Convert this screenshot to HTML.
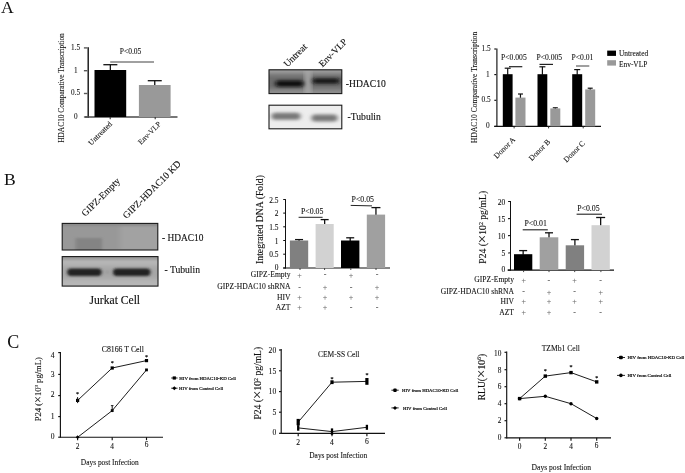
<!DOCTYPE html>
<html><head><meta charset="utf-8"><title>Figure</title>
<style>
html,body{margin:0;padding:0;background:#fff;}
svg{display:block;font-family:'Liberation Serif', serif;}
</style></head>
<body>
<svg width="685" height="473" viewBox="0 0 685 473">
<rect width="685" height="473" fill="#fff"/>
<text transform="translate(1.1 13) scale(1.0 1)" font-size="17.6" text-anchor="start" fill="#111" stroke="#111" stroke-width="0">A</text>
<text transform="translate(4.1 184.7) scale(1.0 1)" font-size="17.6" text-anchor="start" fill="#111" stroke="#111" stroke-width="0">B</text>
<text transform="translate(7.2 347.5) scale(1.0 1)" font-size="18.0" text-anchor="start" fill="#111" stroke="#111" stroke-width="0">C</text>
<line x1="88.2" y1="47.199999999999996" x2="88.2" y2="117.7" stroke="#111" stroke-width="1.4"/>
<line x1="83.9" y1="47.9" x2="87.5" y2="47.9" stroke="#5a5a5a" stroke-width="1.4"/>
<text transform="translate(80 49.844) scale(1.0 1)" font-size="7.2" text-anchor="end" fill="#111" stroke="#111" stroke-width="0.086">1.5</text>
<line x1="83.9" y1="70.7" x2="87.5" y2="70.7" stroke="#5a5a5a" stroke-width="1.4"/>
<text transform="translate(77.6 72.644) scale(1.0 1)" font-size="7.2" text-anchor="end" fill="#111" stroke="#111" stroke-width="0.086">1</text>
<line x1="83.9" y1="93.5" x2="87.5" y2="93.5" stroke="#5a5a5a" stroke-width="1.4"/>
<text transform="translate(80 95.444) scale(1.0 1)" font-size="7.2" text-anchor="end" fill="#111" stroke="#111" stroke-width="0.086">0.5</text>
<line x1="83.9" y1="117" x2="87.5" y2="117" stroke="#5a5a5a" stroke-width="1.4"/>
<text transform="translate(77.6 118.944) scale(1.0 1)" font-size="7.2" text-anchor="end" fill="#111" stroke="#111" stroke-width="0.086">0</text>
<line x1="85" y1="117" x2="177.5" y2="117" stroke="#4a4a4a" stroke-width="1.4"/>
<line x1="110.2" y1="117" x2="110.2" y2="119.2" stroke="#333" stroke-width="1.1"/>
<line x1="155.2" y1="117" x2="155.2" y2="119.2" stroke="#333" stroke-width="1.1"/>
<line x1="110.35" y1="64.7" x2="110.35" y2="70.5" stroke="#111" stroke-width="1.3"/>
<line x1="103.35" y1="64.7" x2="117.35" y2="64.7" stroke="#111" stroke-width="1.3"/>
<rect x="94.50" y="70.00" width="31.70" height="47.00" fill="#000"/>
<line x1="154.75" y1="80.7" x2="154.75" y2="85.5" stroke="#111" stroke-width="1.3"/>
<line x1="147.75" y1="80.7" x2="161.75" y2="80.7" stroke="#111" stroke-width="1.3"/>
<rect x="138.90" y="85.00" width="31.70" height="32.00" fill="#999"/>
<line x1="110.2" y1="62" x2="154" y2="62" stroke="#808080" stroke-width="1.4"/>
<text transform="translate(130.6 54.2) scale(1.0 1)" font-size="7.5" text-anchor="middle" fill="#111" stroke="#111" stroke-width="0.09">P&lt;0.05</text>
<text transform="translate(63.6 88) rotate(-90) scale(1.0 1)" font-size="7.4" text-anchor="middle" fill="#111" stroke="#111" stroke-width="0.089">HDAC10 Comparative Transcription</text>
<text transform="translate(112.5 124.5) rotate(-45) scale(1.0 1)" font-size="7.6" text-anchor="end" fill="#111" stroke="#111" stroke-width="0.091">Untreated</text>
<text transform="translate(161.5 124.5) rotate(-45) scale(1.0 1)" font-size="7.6" text-anchor="end" fill="#111" stroke="#111" stroke-width="0.091">Env-VLP</text>
<defs><filter id="b1" x="-20%" y="-50%" width="140%" height="200%"><feGaussianBlur stdDeviation="2.1 1.5"/></filter><filter id="b2" x="-20%" y="-50%" width="140%" height="200%"><feGaussianBlur stdDeviation="1.6 1.1"/></filter><filter id="b4" x="-20%" y="-50%" width="140%" height="200%"><feGaussianBlur stdDeviation="1.7 1.3"/></filter><filter id="b3" x="-20%" y="-50%" width="140%" height="200%"><feGaussianBlur stdDeviation="2.5 2"/></filter><clipPath id="cA1"><rect x="269" y="69.6" width="72.8" height="24"/></clipPath><clipPath id="cA2"><rect x="269" y="105.2" width="72.8" height="23.6"/></clipPath><clipPath id="cB1"><rect x="62.2" y="223.6" width="95.6" height="26.3"/></clipPath><clipPath id="cB2"><rect x="62.2" y="256.6" width="95.8" height="29.5"/></clipPath></defs>
<rect x="269.00" y="69.80" width="72.80" height="23.80" fill="#8e8e8e"/>
<g clip-path="url(#cA1)">
<rect x="262" y="75" width="90" height="14" fill="#6c6c6c" filter="url(#b3)"/>
<rect x="266" y="65" width="80" height="6" fill="#a8a8a8" filter="url(#b3)"/>
<rect x="304.5" y="66" width="7" height="30" fill="#a6a6a6" filter="url(#b3)"/>
<rect x="275.5" y="80.4" width="28" height="6.4" rx="3.2" fill="#0a0a0a" filter="url(#b1)"/>
<rect x="312.5" y="78.2" width="27" height="5.6" rx="2.8" fill="#161616" filter="url(#b1)"/>
</g>
<rect x="269.00" y="69.80" width="72.80" height="23.80" fill="none" stroke="#1a1a1a" stroke-width="1.1"/>
<rect x="269.00" y="105.20" width="72.80" height="23.60" fill="#ededed"/>
<g clip-path="url(#cA2)">
<rect x="271.5" y="112.8" width="29" height="7" rx="3.5" fill="#787878" filter="url(#b1)"/>
<rect x="311.5" y="114.4" width="26" height="7" rx="3.5" fill="#787878" filter="url(#b1)"/>
</g>
<rect x="269.00" y="105.20" width="72.80" height="23.60" fill="none" stroke="#1a1a1a" stroke-width="1.1"/>
<text transform="translate(345.8 86.5) scale(1.0 1)" font-size="9.6" text-anchor="start" fill="#111" stroke="#111" stroke-width="0.115">-HDAC10</text>
<text transform="translate(347.6 120.3) scale(1.0 1)" font-size="9.6" text-anchor="start" fill="#111" stroke="#111" stroke-width="0.115">-Tubulin</text>
<text transform="translate(287.5 67.5) rotate(-45) scale(1.0 1)" font-size="9.5" text-anchor="start" fill="#111" stroke="#111" stroke-width="0.114">Untreat</text>
<text transform="translate(322.5 67.5) rotate(-45) scale(1.0 1)" font-size="9.3" text-anchor="start" fill="#111" stroke="#111" stroke-width="0.112">Env-VLP</text>
<line x1="496.9" y1="48.425" x2="496.9" y2="126.97500000000001" stroke="#111" stroke-width="1.15"/>
<line x1="494.29999999999995" y1="49" x2="496.325" y2="49" stroke="#111" stroke-width="1.15"/>
<text transform="translate(490.7 50.971000000000004) scale(1.0 1)" font-size="7.3" text-anchor="end" fill="#111" stroke="#111" stroke-width="0.088">1.5</text>
<line x1="494.29999999999995" y1="74.6" x2="496.325" y2="74.6" stroke="#111" stroke-width="1.15"/>
<text transform="translate(489.6 76.571) scale(1.0 1)" font-size="7.3" text-anchor="end" fill="#111" stroke="#111" stroke-width="0.088">1</text>
<line x1="494.29999999999995" y1="100.3" x2="496.325" y2="100.3" stroke="#111" stroke-width="1.15"/>
<text transform="translate(490.7 102.271) scale(1.0 1)" font-size="7.3" text-anchor="end" fill="#111" stroke="#111" stroke-width="0.088">0.5</text>
<line x1="494.29999999999995" y1="126.4" x2="496.325" y2="126.4" stroke="#111" stroke-width="1.15"/>
<text transform="translate(489.6 128.371) scale(1.0 1)" font-size="7.3" text-anchor="end" fill="#111" stroke="#111" stroke-width="0.088">0</text>
<line x1="494.3" y1="126.4" x2="601" y2="126.4" stroke="#111" stroke-width="1.15"/>
<line x1="514.1" y1="126.4" x2="514.1" y2="128.4" stroke="#333" stroke-width="1"/>
<line x1="548.6" y1="126.4" x2="548.6" y2="128.4" stroke="#333" stroke-width="1"/>
<line x1="583.2" y1="126.4" x2="583.2" y2="128.4" stroke="#333" stroke-width="1"/>
<line x1="507.70000000000005" y1="68.2" x2="507.70000000000005" y2="74.7" stroke="#111" stroke-width="1.2"/>
<line x1="504.70000000000005" y1="68.2" x2="510.70000000000005" y2="68.2" stroke="#111" stroke-width="1.2"/>
<rect x="502.80" y="74.20" width="9.80" height="52.20" fill="#000"/>
<line x1="520.45" y1="94" x2="520.45" y2="98.1" stroke="#111" stroke-width="1.2"/>
<line x1="517.95" y1="94" x2="522.95" y2="94" stroke="#111" stroke-width="1.2"/>
<rect x="515.40" y="97.60" width="10.10" height="28.80" fill="#999"/>
<line x1="542.4" y1="66.8" x2="542.4" y2="74.7" stroke="#111" stroke-width="1.2"/>
<line x1="539.4" y1="66.8" x2="545.4" y2="66.8" stroke="#111" stroke-width="1.2"/>
<rect x="537.50" y="74.20" width="9.80" height="52.20" fill="#000"/>
<line x1="555.3" y1="107.8" x2="555.3" y2="108.9" stroke="#111" stroke-width="1.2"/>
<line x1="552.8" y1="107.8" x2="557.8" y2="107.8" stroke="#111" stroke-width="1.2"/>
<rect x="550.30" y="108.40" width="10.00" height="18.00" fill="#999"/>
<line x1="577.2" y1="69.6" x2="577.2" y2="74.7" stroke="#111" stroke-width="1.2"/>
<line x1="574.2" y1="69.6" x2="580.2" y2="69.6" stroke="#111" stroke-width="1.2"/>
<rect x="572.20" y="74.20" width="10.00" height="52.20" fill="#000"/>
<line x1="590.2" y1="88.2" x2="590.2" y2="89.9" stroke="#111" stroke-width="1.2"/>
<line x1="587.7" y1="88.2" x2="592.7" y2="88.2" stroke="#111" stroke-width="1.2"/>
<rect x="585.20" y="89.40" width="10.00" height="37.00" fill="#999"/>
<line x1="509" y1="66.7" x2="522.3" y2="66.7" stroke="#222" stroke-width="1.2"/>
<line x1="539.5" y1="64.4" x2="553" y2="64.4" stroke="#222" stroke-width="1.2"/>
<line x1="576" y1="66" x2="589.3" y2="66" stroke="#777" stroke-width="1.4"/>
<text transform="translate(513.9 59.8) scale(1.0 1)" font-size="7.6" text-anchor="middle" fill="#111" stroke="#111" stroke-width="0.091">P&lt;0.005</text>
<text transform="translate(549.3 59.8) scale(1.0 1)" font-size="7.6" text-anchor="middle" fill="#111" stroke="#111" stroke-width="0.091">P&lt;0.005</text>
<text transform="translate(582.5 60) scale(1.0 1)" font-size="7.6" text-anchor="middle" fill="#111" stroke="#111" stroke-width="0.091">P&lt;0.01</text>
<rect x="607.20" y="50.60" width="8.80" height="5.30" fill="#000"/>
<rect x="607.20" y="60.20" width="8.80" height="5.40" fill="#999"/>
<text transform="translate(619 55.6) scale(1.0 1)" font-size="7.4" text-anchor="start" fill="#111" stroke="#111" stroke-width="0.089">Untreated</text>
<text transform="translate(619 66.6) scale(1.0 1)" font-size="7.4" text-anchor="start" fill="#111" stroke="#111" stroke-width="0.089">Env-VLP</text>
<text transform="translate(476.8 87.3) rotate(-90) scale(1.0 1)" font-size="7.5" text-anchor="middle" fill="#111" stroke="#111" stroke-width="0.09">HDAC10 Comparative Transcription</text>
<text transform="translate(515.7 140) rotate(-45) scale(1.0 1)" font-size="7.7" text-anchor="end" fill="#111" stroke="#111" stroke-width="0.092">Donor A</text>
<text transform="translate(550.6 142.4) rotate(-45) scale(1.0 1)" font-size="7.7" text-anchor="end" fill="#111" stroke="#111" stroke-width="0.092">Donor B</text>
<text transform="translate(585.4 143.8) rotate(-45) scale(1.0 1)" font-size="7.7" text-anchor="end" fill="#111" stroke="#111" stroke-width="0.092">Donor C</text>
<rect x="62.20" y="223.60" width="95.60" height="26.30" fill="#989898"/>
<g clip-path="url(#cB1)">
<rect x="120" y="222" width="40" height="30" fill="#a2a2a2" filter="url(#b3)"/>
<rect x="60" y="221" width="100" height="5" fill="#8a8a8a" filter="url(#b2)"/>
<rect x="75.5" y="238" width="26.5" height="14" fill="#848484" filter="url(#b2)"/>
</g>
<rect x="62.20" y="223.40" width="95.60" height="26.60" fill="none" stroke="#1a1a1a" stroke-width="1.1"/>
<rect x="62.20" y="256.60" width="95.80" height="29.50" fill="#b6b6b6"/>
<g clip-path="url(#cB2)">
<rect x="58" y="254" width="104" height="6" fill="#9c9c9c" filter="url(#b2)"/>
<rect x="58" y="266" width="104" height="13" fill="#a6a6a6" filter="url(#b3)"/>
<rect x="67.2" y="268.6" width="34.5" height="7.4" rx="3.7" fill="#222" filter="url(#b4)"/>
<rect x="113" y="268.6" width="37.5" height="7.4" rx="3.7" fill="#222" filter="url(#b4)"/>
<ellipse cx="107.3" cy="272" rx="2" ry="1.6" fill="#9a9a9a" filter="url(#b2)"/>
</g>
<rect x="62.20" y="256.60" width="95.80" height="29.50" fill="none" stroke="#1a1a1a" stroke-width="1.1"/>
<text transform="translate(162 240.8) scale(1.0 1)" font-size="9.4" text-anchor="start" fill="#111" stroke="#111" stroke-width="0.113">- HDAC10</text>
<text transform="translate(164.5 272.8) scale(1.0 1)" font-size="9.6" text-anchor="start" fill="#111" stroke="#111" stroke-width="0.115">- Tubulin</text>
<text transform="translate(114.8 304.3) scale(1.0 1)" font-size="11.6" text-anchor="middle" fill="#111" stroke="#111" stroke-width="0.139">Jurkat Cell</text>
<text transform="translate(85.3 217) rotate(-45) scale(1.0 1)" font-size="9.6" text-anchor="start" fill="#111" stroke="#111" stroke-width="0.115">GIPZ-Empty</text>
<text transform="translate(126.6 219.2) rotate(-45) scale(1.0 1)" font-size="9.6" text-anchor="start" fill="#111" stroke="#111" stroke-width="0.115">GIPZ-HDAC10 KD</text>
<line x1="285.5" y1="199.17499999999998" x2="285.5" y2="268.525" stroke="#111" stroke-width="1.05"/>
<line x1="283.2" y1="199.5" x2="285.5" y2="199.5" stroke="#111" stroke-width="1.05"/>
<text transform="translate(278.5 202.8) scale(1.0 1)" font-size="7.4" text-anchor="end" fill="#111" stroke="#111" stroke-width="0.089">2.5</text>
<line x1="283.2" y1="213.1" x2="285.5" y2="213.1" stroke="#111" stroke-width="1.05"/>
<text transform="translate(278.5 216.29999999999998) scale(1.0 1)" font-size="7.4" text-anchor="end" fill="#111" stroke="#111" stroke-width="0.089">2</text>
<line x1="283.2" y1="226.8" x2="285.5" y2="226.8" stroke="#111" stroke-width="1.05"/>
<text transform="translate(278.5 229.9) scale(1.0 1)" font-size="7.4" text-anchor="end" fill="#111" stroke="#111" stroke-width="0.089">1.5</text>
<line x1="283.2" y1="240.5" x2="285.5" y2="240.5" stroke="#111" stroke-width="1.05"/>
<text transform="translate(278.5 243.6) scale(1.0 1)" font-size="7.4" text-anchor="end" fill="#111" stroke="#111" stroke-width="0.089">1</text>
<line x1="283.2" y1="254.2" x2="285.5" y2="254.2" stroke="#111" stroke-width="1.05"/>
<text transform="translate(278.5 257.2) scale(1.0 1)" font-size="7.4" text-anchor="end" fill="#111" stroke="#111" stroke-width="0.089">0.5</text>
<line x1="283.2" y1="268" x2="285.5" y2="268" stroke="#111" stroke-width="1.05"/>
<text transform="translate(278.5 270.2) scale(1.0 1)" font-size="7.4" text-anchor="end" fill="#111" stroke="#111" stroke-width="0.089">0</text>
<line x1="283.2" y1="268" x2="390" y2="268" stroke="#111" stroke-width="1.15"/>
<line x1="300" y1="268" x2="300" y2="270" stroke="#444" stroke-width="1"/>
<line x1="324.6" y1="268" x2="324.6" y2="270" stroke="#444" stroke-width="1"/>
<line x1="350.8" y1="268" x2="350.8" y2="270" stroke="#444" stroke-width="1"/>
<line x1="376" y1="268" x2="376" y2="270" stroke="#444" stroke-width="1"/>
<line x1="299.04999999999995" y1="239.6" x2="299.04999999999995" y2="241.0" stroke="#111" stroke-width="1.3"/>
<line x1="295.04999999999995" y1="239.6" x2="303.04999999999995" y2="239.6" stroke="#111" stroke-width="1.3"/>
<rect x="289.90" y="240.50" width="18.30" height="27.50" fill="#808080"/>
<line x1="324.65" y1="219.6" x2="324.65" y2="224.5" stroke="#111" stroke-width="1.3"/>
<line x1="320.65" y1="219.6" x2="328.65" y2="219.6" stroke="#111" stroke-width="1.3"/>
<rect x="315.60" y="224.00" width="18.10" height="44.00" fill="#d2d2d2"/>
<line x1="350.2" y1="237.8" x2="350.2" y2="241.0" stroke="#111" stroke-width="1.3"/>
<line x1="346.2" y1="237.8" x2="354.2" y2="237.8" stroke="#111" stroke-width="1.3"/>
<rect x="341.00" y="240.50" width="18.40" height="27.50" fill="#000"/>
<line x1="375.95000000000005" y1="207.6" x2="375.95000000000005" y2="215.1" stroke="#111" stroke-width="1.3"/>
<line x1="371.45000000000005" y1="207.6" x2="380.45000000000005" y2="207.6" stroke="#111" stroke-width="1.3"/>
<rect x="366.80" y="214.60" width="18.30" height="53.40" fill="#a0a0a0"/>
<line x1="298.6" y1="217.3" x2="322.6" y2="217.3" stroke="#222" stroke-width="1"/>
<line x1="350.7" y1="205.4" x2="372" y2="205.9" stroke="#222" stroke-width="1"/>
<text transform="translate(312.2 213.8) scale(1.0 1)" font-size="7.8" text-anchor="middle" fill="#111" stroke="#111" stroke-width="0.094">P&lt;0.05</text>
<text transform="translate(362.8 201.5) scale(1.0 1)" font-size="7.8" text-anchor="middle" fill="#111" stroke="#111" stroke-width="0.094">P&lt;0.05</text>
<text transform="translate(262.5 219.5) rotate(-90) scale(1.0 1)" font-size="9.7" text-anchor="middle" fill="#111" stroke="#111" stroke-width="0.116">Integrated DNA (Fold)</text>
<text transform="translate(290.5 276.7) scale(1.0 1)" font-size="7.6" text-anchor="end" fill="#111" stroke="#111" stroke-width="0.091">GIPZ-Empty</text>
<text transform="translate(290.5 288.9) scale(1.0 1)" font-size="7.6" text-anchor="end" fill="#111" stroke="#111" stroke-width="0.091">GIPZ-HDAC10 shRNA</text>
<text transform="translate(290.5 299.5) scale(1.0 1)" font-size="7.6" text-anchor="end" fill="#111" stroke="#111" stroke-width="0.091">HIV</text>
<text transform="translate(290.5 309.5) scale(1.0 1)" font-size="7.6" text-anchor="end" fill="#111" stroke="#111" stroke-width="0.091">AZT</text>
<text transform="translate(299.5 277.5) scale(1.0 1)" font-size="8.0" text-anchor="middle" fill="#6a6a6a" stroke="#6a6a6a" stroke-width="0.096">+</text>
<text transform="translate(325 277.3) scale(1.0 1)" font-size="8.0" text-anchor="middle" fill="#333" stroke="#333" stroke-width="0.096">-</text>
<text transform="translate(351 277.5) scale(1.0 1)" font-size="8.0" text-anchor="middle" fill="#6a6a6a" stroke="#6a6a6a" stroke-width="0.096">+</text>
<text transform="translate(377 277.3) scale(1.0 1)" font-size="8.0" text-anchor="middle" fill="#333" stroke="#333" stroke-width="0.096">-</text>
<text transform="translate(299.5 289.5) scale(1.0 1)" font-size="8.0" text-anchor="middle" fill="#333" stroke="#333" stroke-width="0.096">-</text>
<text transform="translate(325 289.7) scale(1.0 1)" font-size="8.0" text-anchor="middle" fill="#6a6a6a" stroke="#6a6a6a" stroke-width="0.096">+</text>
<text transform="translate(351 289.5) scale(1.0 1)" font-size="8.0" text-anchor="middle" fill="#333" stroke="#333" stroke-width="0.096">-</text>
<text transform="translate(377 289.7) scale(1.0 1)" font-size="8.0" text-anchor="middle" fill="#6a6a6a" stroke="#6a6a6a" stroke-width="0.096">+</text>
<text transform="translate(299.5 300.3) scale(1.0 1)" font-size="8.0" text-anchor="middle" fill="#6a6a6a" stroke="#6a6a6a" stroke-width="0.096">+</text>
<text transform="translate(325 300.3) scale(1.0 1)" font-size="8.0" text-anchor="middle" fill="#6a6a6a" stroke="#6a6a6a" stroke-width="0.096">+</text>
<text transform="translate(351 300.3) scale(1.0 1)" font-size="8.0" text-anchor="middle" fill="#6a6a6a" stroke="#6a6a6a" stroke-width="0.096">+</text>
<text transform="translate(377 300.3) scale(1.0 1)" font-size="8.0" text-anchor="middle" fill="#6a6a6a" stroke="#6a6a6a" stroke-width="0.096">+</text>
<text transform="translate(299.5 310.3) scale(1.0 1)" font-size="8.0" text-anchor="middle" fill="#6a6a6a" stroke="#6a6a6a" stroke-width="0.096">+</text>
<text transform="translate(325 310.3) scale(1.0 1)" font-size="8.0" text-anchor="middle" fill="#6a6a6a" stroke="#6a6a6a" stroke-width="0.096">+</text>
<text transform="translate(351 310.1) scale(1.0 1)" font-size="8.0" text-anchor="middle" fill="#333" stroke="#333" stroke-width="0.096">-</text>
<text transform="translate(377 310.1) scale(1.0 1)" font-size="8.0" text-anchor="middle" fill="#333" stroke="#333" stroke-width="0.096">-</text>
<line x1="510.5" y1="200.975" x2="510.5" y2="270.625" stroke="#111" stroke-width="1.05"/>
<line x1="508.1" y1="201.5" x2="510.5" y2="201.5" stroke="#111" stroke-width="1.05"/>
<text transform="translate(505.2 204.6) scale(1.0 1)" font-size="7.5" text-anchor="end" fill="#111" stroke="#111" stroke-width="0.09">20</text>
<line x1="508.1" y1="218.6" x2="510.5" y2="218.6" stroke="#111" stroke-width="1.05"/>
<text transform="translate(505.2 221.7) scale(1.0 1)" font-size="7.5" text-anchor="end" fill="#111" stroke="#111" stroke-width="0.09">15</text>
<line x1="508.1" y1="235.6" x2="510.5" y2="235.6" stroke="#111" stroke-width="1.05"/>
<text transform="translate(505.2 238.7) scale(1.0 1)" font-size="7.5" text-anchor="end" fill="#111" stroke="#111" stroke-width="0.09">10</text>
<line x1="508.1" y1="252.9" x2="510.5" y2="252.9" stroke="#111" stroke-width="1.05"/>
<text transform="translate(505.2 255.9) scale(1.0 1)" font-size="7.5" text-anchor="end" fill="#111" stroke="#111" stroke-width="0.09">5</text>
<line x1="508.1" y1="270.1" x2="510.5" y2="270.1" stroke="#111" stroke-width="1.05"/>
<text transform="translate(505.2 272.3) scale(1.0 1)" font-size="7.5" text-anchor="end" fill="#111" stroke="#111" stroke-width="0.09">0</text>
<line x1="507.6" y1="270.1" x2="614" y2="270.1" stroke="#111" stroke-width="1.15"/>
<line x1="523.6" y1="270.1" x2="523.6" y2="272.1" stroke="#444" stroke-width="1"/>
<line x1="549" y1="270.1" x2="549" y2="272.1" stroke="#444" stroke-width="1"/>
<line x1="574.7" y1="270.1" x2="574.7" y2="272.1" stroke="#444" stroke-width="1"/>
<line x1="600.9" y1="270.1" x2="600.9" y2="272.1" stroke="#444" stroke-width="1"/>
<line x1="523.15" y1="250.6" x2="523.15" y2="254.7" stroke="#111" stroke-width="1.3"/>
<line x1="519.15" y1="250.6" x2="527.15" y2="250.6" stroke="#111" stroke-width="1.3"/>
<rect x="514.00" y="254.20" width="18.30" height="15.90" fill="#000"/>
<line x1="549.0" y1="232.8" x2="549.0" y2="237.8" stroke="#111" stroke-width="1.3"/>
<line x1="545.0" y1="232.8" x2="553.0" y2="232.8" stroke="#111" stroke-width="1.3"/>
<rect x="539.70" y="237.30" width="18.60" height="32.80" fill="#a0a0a0"/>
<line x1="574.9000000000001" y1="239.6" x2="574.9000000000001" y2="245.8" stroke="#111" stroke-width="1.3"/>
<line x1="570.9000000000001" y1="239.6" x2="578.9000000000001" y2="239.6" stroke="#111" stroke-width="1.3"/>
<rect x="565.70" y="245.30" width="18.40" height="24.80" fill="#808080"/>
<line x1="600.65" y1="217.5" x2="600.65" y2="225.7" stroke="#111" stroke-width="1.3"/>
<line x1="596.15" y1="217.5" x2="605.15" y2="217.5" stroke="#111" stroke-width="1.3"/>
<rect x="591.50" y="225.20" width="18.30" height="44.90" fill="#d2d2d2"/>
<line x1="522.7" y1="229.8" x2="547.8" y2="229.8" stroke="#222" stroke-width="1.1"/>
<line x1="576.6" y1="214.2" x2="602" y2="214.2" stroke="#222" stroke-width="1.1"/>
<text transform="translate(535.6 226.4) scale(1.0 1)" font-size="7.8" text-anchor="middle" fill="#111" stroke="#111" stroke-width="0.094">P&lt;0.01</text>
<text transform="translate(588.4 210.7) scale(1.0 1)" font-size="7.8" text-anchor="middle" fill="#111" stroke="#111" stroke-width="0.094">P&lt;0.05</text>
<text transform="translate(486.2 227.3) rotate(-90) scale(1.0 1)" font-size="9.6" text-anchor="middle" fill="#111" stroke="#111" stroke-width="0.115">P24 (<tspan font-size="15.00" dy="1.05">×</tspan><tspan dy="-1.05">1</tspan>0<tspan font-size="6" dy="-3.3">2</tspan><tspan dy="3.3"> pg/mL)</tspan></text>
<text transform="translate(514 282.4) scale(1.0 1)" font-size="7.6" text-anchor="end" fill="#111" stroke="#111" stroke-width="0.091">GIPZ-Empty</text>
<text transform="translate(514 293.8) scale(1.0 1)" font-size="7.6" text-anchor="end" fill="#111" stroke="#111" stroke-width="0.091">GIPZ-HDAC10 shRNA</text>
<text transform="translate(514 303.6) scale(1.0 1)" font-size="7.6" text-anchor="end" fill="#111" stroke="#111" stroke-width="0.091">HIV</text>
<text transform="translate(514 314.5) scale(1.0 1)" font-size="7.6" text-anchor="end" fill="#111" stroke="#111" stroke-width="0.091">AZT</text>
<text transform="translate(523.7 283.2) scale(1.0 1)" font-size="8.0" text-anchor="middle" fill="#6a6a6a" stroke="#6a6a6a" stroke-width="0.096">+</text>
<text transform="translate(548.9 283.0) scale(1.0 1)" font-size="8.0" text-anchor="middle" fill="#333" stroke="#333" stroke-width="0.096">-</text>
<text transform="translate(574.6 283.2) scale(1.0 1)" font-size="8.0" text-anchor="middle" fill="#6a6a6a" stroke="#6a6a6a" stroke-width="0.096">+</text>
<text transform="translate(600.7 283.0) scale(1.0 1)" font-size="8.0" text-anchor="middle" fill="#333" stroke="#333" stroke-width="0.096">-</text>
<text transform="translate(523.7 294.40000000000003) scale(1.0 1)" font-size="8.0" text-anchor="middle" fill="#333" stroke="#333" stroke-width="0.096">-</text>
<text transform="translate(548.9 294.6) scale(1.0 1)" font-size="8.0" text-anchor="middle" fill="#6a6a6a" stroke="#6a6a6a" stroke-width="0.096">+</text>
<text transform="translate(574.6 294.40000000000003) scale(1.0 1)" font-size="8.0" text-anchor="middle" fill="#333" stroke="#333" stroke-width="0.096">-</text>
<text transform="translate(600.7 294.6) scale(1.0 1)" font-size="8.0" text-anchor="middle" fill="#6a6a6a" stroke="#6a6a6a" stroke-width="0.096">+</text>
<text transform="translate(523.7 304.40000000000003) scale(1.0 1)" font-size="8.0" text-anchor="middle" fill="#6a6a6a" stroke="#6a6a6a" stroke-width="0.096">+</text>
<text transform="translate(548.9 304.40000000000003) scale(1.0 1)" font-size="8.0" text-anchor="middle" fill="#6a6a6a" stroke="#6a6a6a" stroke-width="0.096">+</text>
<text transform="translate(574.6 304.40000000000003) scale(1.0 1)" font-size="8.0" text-anchor="middle" fill="#6a6a6a" stroke="#6a6a6a" stroke-width="0.096">+</text>
<text transform="translate(600.7 304.40000000000003) scale(1.0 1)" font-size="8.0" text-anchor="middle" fill="#6a6a6a" stroke="#6a6a6a" stroke-width="0.096">+</text>
<text transform="translate(523.7 315.3) scale(1.0 1)" font-size="8.0" text-anchor="middle" fill="#6a6a6a" stroke="#6a6a6a" stroke-width="0.096">+</text>
<text transform="translate(548.9 315.3) scale(1.0 1)" font-size="8.0" text-anchor="middle" fill="#6a6a6a" stroke="#6a6a6a" stroke-width="0.096">+</text>
<text transform="translate(574.6 315.1) scale(1.0 1)" font-size="8.0" text-anchor="middle" fill="#333" stroke="#333" stroke-width="0.096">-</text>
<text transform="translate(600.7 315.1) scale(1.0 1)" font-size="8.0" text-anchor="middle" fill="#333" stroke="#333" stroke-width="0.096">-</text>
<g transform="translate(0 0.6)">
<line x1="60.4" y1="351.425" x2="60.4" y2="437.175" stroke="#111" stroke-width="1.15"/>
<line x1="58.199999999999996" y1="352" x2="60.4" y2="352" stroke="#111" stroke-width="1.15"/>
<text transform="translate(54.5 357.2) scale(1.0 1)" font-size="7.6" text-anchor="end" fill="#111" stroke="#111" stroke-width="0.091">4</text>
<line x1="58.199999999999996" y1="373.8" x2="60.4" y2="373.8" stroke="#111" stroke-width="1.15"/>
<text transform="translate(54.5 376.1) scale(1.0 1)" font-size="7.6" text-anchor="end" fill="#111" stroke="#111" stroke-width="0.091">3</text>
<line x1="58.199999999999996" y1="395" x2="60.4" y2="395" stroke="#111" stroke-width="1.15"/>
<text transform="translate(54.5 396.6) scale(1.0 1)" font-size="7.6" text-anchor="end" fill="#111" stroke="#111" stroke-width="0.091">2</text>
<line x1="58.199999999999996" y1="416" x2="60.4" y2="416" stroke="#111" stroke-width="1.15"/>
<text transform="translate(54.5 418.1) scale(1.0 1)" font-size="7.6" text-anchor="end" fill="#111" stroke="#111" stroke-width="0.091">1</text>
<line x1="58.199999999999996" y1="436.6" x2="60.4" y2="436.6" stroke="#111" stroke-width="1.15"/>
<text transform="translate(54.5 438.70000000000005) scale(1.0 1)" font-size="7.6" text-anchor="end" fill="#111" stroke="#111" stroke-width="0.091">0</text>
<line x1="60.4" y1="436.6" x2="163" y2="436.6" stroke="#111" stroke-width="1.15"/>
<line x1="77.6" y1="436.6" x2="77.6" y2="439.6" stroke="#111" stroke-width="1.15"/>
<text transform="translate(77.6 448) scale(1.0 1)" font-size="7.4" text-anchor="middle" fill="#111" stroke="#111" stroke-width="0.089">2</text>
<line x1="112.2" y1="436.6" x2="112.2" y2="439.6" stroke="#111" stroke-width="1.15"/>
<text transform="translate(112.2 448) scale(1.0 1)" font-size="7.4" text-anchor="middle" fill="#111" stroke="#111" stroke-width="0.089">4</text>
<line x1="146.5" y1="436.6" x2="146.5" y2="439.6" stroke="#111" stroke-width="1.15"/>
<text transform="translate(146.5 446.5) scale(1.0 1)" font-size="7.4" text-anchor="middle" fill="#111" stroke="#111" stroke-width="0.089">6</text>
<polyline points="77.6,399.8 112.2,367.4 146.5,360" fill="none" stroke="#111" stroke-width="0.95"/>
<polyline points="77.6,436.7 112.2,410 146.5,369.3" fill="none" stroke="#111" stroke-width="0.95"/>
<rect x="76.00" y="398.20" width="3.20" height="3.20" fill="#000"/>
<rect x="110.60" y="365.80" width="3.20" height="3.20" fill="#000"/>
<rect x="144.90" y="358.40" width="3.20" height="3.20" fill="#000"/>
<path d="M75.69999999999999 436.6L77.6 434.70000000000005L79.5 436.6L77.6 438.5Z" fill="#000"/>
<rect x="110.80" y="408.60" width="2.80" height="2.80" fill="#000"/>
<rect x="145.10" y="367.90" width="2.80" height="2.80" fill="#000"/>
<line x1="77.6" y1="396.5" x2="77.6" y2="402.5" stroke="#111" stroke-width="1"/>
<line x1="112.2" y1="405" x2="112.2" y2="411.5" stroke="#111" stroke-width="1"/>
<line x1="110.9" y1="405" x2="113.5" y2="405" stroke="#111" stroke-width="0.9"/>
<text transform="translate(77.6 395.1) scale(1.0 1)" font-size="6.0" text-anchor="middle" fill="#111" stroke="#111" stroke-width="0.2">*</text>
<text transform="translate(112.2 364.0) scale(1.0 1)" font-size="6.0" text-anchor="middle" fill="#111" stroke="#111" stroke-width="0.2">*</text>
<text transform="translate(146.5 357.90000000000003) scale(1.0 1)" font-size="6.0" text-anchor="middle" fill="#111" stroke="#111" stroke-width="0.2">*</text>
<text transform="translate(122.8 351.3) scale(1.0 1)" font-size="7.8" text-anchor="middle" fill="#111" stroke="#111" stroke-width="0.094">C8166 T Cell</text>
<text transform="translate(40.7 388.6) rotate(-90) scale(1.0 1)" font-size="8.6" text-anchor="middle" fill="#111" stroke="#111" stroke-width="0.103">P24 (<tspan font-size="12.00" dy="0.84">×</tspan><tspan dy="-0.84">1</tspan>0<tspan font-size="5" dy="-3">3</tspan><tspan dy="3"> pg/mL)</tspan></text>
<text transform="translate(109.8 464.2) scale(1.0 1)" font-size="7.4" text-anchor="middle" fill="#111" stroke="#111" stroke-width="0.089">Days post Infection</text>
<line x1="171.2" y1="377.4" x2="177.6" y2="377.4" stroke="#111" stroke-width="0.9"/>
<rect x="172.70" y="375.80" width="3.20" height="3.20" fill="#000"/>
<line x1="171.2" y1="387.6" x2="177.6" y2="387.6" stroke="#111" stroke-width="0.9"/>
<path d="M172.3 387.6L174.3 385.6L176.3 387.6L174.3 389.6Z" fill="#000"/>
<text transform="translate(179.3 379.2) scale(1.0 1)" font-size="4.83" text-anchor="start" fill="#111" stroke="#111" stroke-width="0.2">HIV from HDAC10-KD Cell</text>
<text transform="translate(179.1 389.4) scale(1.0 1)" font-size="4.8" text-anchor="start" fill="#111" stroke="#111" stroke-width="0.2">HIV from Control Cell</text>
</g>
<g transform="translate(0 0.6)">
<line x1="281.2" y1="348.425" x2="281.2" y2="433.275" stroke="#111" stroke-width="1.15"/>
<line x1="279.0" y1="349.4" x2="281.2" y2="349.4" stroke="#111" stroke-width="1.15"/>
<text transform="translate(276.2 352.79999999999995) scale(1.0 1)" font-size="7.6" text-anchor="end" fill="#111" stroke="#111" stroke-width="0.091">20</text>
<line x1="279.0" y1="370.2" x2="281.2" y2="370.2" stroke="#111" stroke-width="1.15"/>
<text transform="translate(276.2 373.2) scale(1.0 1)" font-size="7.6" text-anchor="end" fill="#111" stroke="#111" stroke-width="0.091">15</text>
<line x1="279.0" y1="391" x2="281.2" y2="391" stroke="#111" stroke-width="1.15"/>
<text transform="translate(276.2 393.8) scale(1.0 1)" font-size="7.6" text-anchor="end" fill="#111" stroke="#111" stroke-width="0.091">10</text>
<line x1="279.0" y1="411.6" x2="281.2" y2="411.6" stroke="#111" stroke-width="1.15"/>
<text transform="translate(276.2 414.20000000000005) scale(1.0 1)" font-size="7.6" text-anchor="end" fill="#111" stroke="#111" stroke-width="0.091">5</text>
<line x1="279.0" y1="432.7" x2="281.2" y2="432.7" stroke="#111" stroke-width="1.15"/>
<text transform="translate(276.2 434.8) scale(1.0 1)" font-size="7.6" text-anchor="end" fill="#111" stroke="#111" stroke-width="0.091">0</text>
<line x1="281.2" y1="432.7" x2="385" y2="432.7" stroke="#111" stroke-width="1.15"/>
<line x1="298.2" y1="432.7" x2="298.2" y2="435.7" stroke="#111" stroke-width="1.15"/>
<text transform="translate(298.2 444.6) scale(1.0 1)" font-size="7.6" text-anchor="middle" fill="#111" stroke="#111" stroke-width="0.091">2</text>
<line x1="332" y1="432.7" x2="332" y2="435.7" stroke="#111" stroke-width="1.15"/>
<text transform="translate(332 444.6) scale(1.0 1)" font-size="7.6" text-anchor="middle" fill="#111" stroke="#111" stroke-width="0.091">4</text>
<line x1="366.9" y1="432.7" x2="366.9" y2="435.7" stroke="#111" stroke-width="1.15"/>
<text transform="translate(366.9 443.6) scale(1.0 1)" font-size="7.6" text-anchor="middle" fill="#111" stroke="#111" stroke-width="0.091">6</text>
<polyline points="298.2,421.5 332,381.6 366.9,380.8" fill="none" stroke="#111" stroke-width="0.95"/>
<polyline points="298.2,427.3 332,431 366.9,426.7" fill="none" stroke="#111" stroke-width="0.95"/>
<rect x="296.60" y="418.30" width="3.20" height="6.40" fill="#000"/>
<rect x="330.40" y="379.70" width="3.20" height="3.80" fill="#000"/>
<rect x="365.30" y="377.40" width="3.20" height="6.80" fill="#000"/>
<rect x="297.05" y="424.50" width="2.30" height="5.60" fill="#000"/>
<rect x="330.85" y="427.80" width="2.30" height="6.40" fill="#000"/>
<rect x="365.75" y="424.20" width="2.30" height="5.00" fill="#000"/>
<text transform="translate(332 380.1) scale(1.0 1)" font-size="6.0" text-anchor="middle" fill="#111" stroke="#111" stroke-width="0.2">*</text>
<text transform="translate(366.9 376.3) scale(1.0 1)" font-size="6.0" text-anchor="middle" fill="#111" stroke="#111" stroke-width="0.2">*</text>
<text transform="translate(338.7 356.7) scale(1.0 1)" font-size="7.5" text-anchor="middle" fill="#111" stroke="#111" stroke-width="0.09">CEM-SS Cell</text>
<text transform="translate(261.3 382.6) rotate(-90) scale(1.0 1)" font-size="9.6" text-anchor="middle" fill="#111" stroke="#111" stroke-width="0.115">P24 (<tspan font-size="15.00" dy="1.05">×</tspan><tspan dy="-1.05">1</tspan>0<tspan font-size="6" dy="-3.3">2</tspan><tspan dy="3.3"> pg/mL)</tspan></text>
<text transform="translate(338.2 457.6) scale(1.0 1)" font-size="7.4" text-anchor="middle" fill="#111" stroke="#111" stroke-width="0.089">Days post Infection</text>
<line x1="391.4" y1="389.6" x2="398.7" y2="389.6" stroke="#111" stroke-width="0.9"/>
<rect x="393.30" y="387.90" width="3.40" height="3.40" fill="#000" rx="0.9"/>
<line x1="391.4" y1="407.3" x2="398.7" y2="407.3" stroke="#111" stroke-width="0.9"/>
<path d="M393 407.3L395 405.3L397 407.3L395 409.3Z" fill="#000"/>
<text transform="translate(402 391.1) scale(1.0 1)" font-size="4.8" text-anchor="start" fill="#111" stroke="#111" stroke-width="0.2">HIV from HDAC10-KD Cell</text>
<text transform="translate(403 409.1) scale(1.0 1)" font-size="4.8" text-anchor="start" fill="#111" stroke="#111" stroke-width="0.2">HIV from Control Cell</text>
</g>
<g transform="translate(0 0.5)">
<line x1="506.7" y1="350.925" x2="506.7" y2="437.875" stroke="#111" stroke-width="1.15"/>
<line x1="504.5" y1="351.8" x2="506.7" y2="351.8" stroke="#111" stroke-width="1.15"/>
<text transform="translate(501.3 355.2) scale(1.0 1)" font-size="7.3" text-anchor="end" fill="#111" stroke="#111" stroke-width="0.088">10</text>
<line x1="504.5" y1="369.2" x2="506.7" y2="369.2" stroke="#111" stroke-width="1.15"/>
<text transform="translate(501.3 372.09999999999997) scale(1.0 1)" font-size="7.3" text-anchor="end" fill="#111" stroke="#111" stroke-width="0.088">8</text>
<line x1="504.5" y1="386.2" x2="506.7" y2="386.2" stroke="#111" stroke-width="1.15"/>
<text transform="translate(501.3 388.8) scale(1.0 1)" font-size="7.3" text-anchor="end" fill="#111" stroke="#111" stroke-width="0.088">6</text>
<line x1="504.5" y1="403.2" x2="506.7" y2="403.2" stroke="#111" stroke-width="1.15"/>
<text transform="translate(501.3 405.59999999999997) scale(1.0 1)" font-size="7.3" text-anchor="end" fill="#111" stroke="#111" stroke-width="0.088">4</text>
<line x1="504.5" y1="420.2" x2="506.7" y2="420.2" stroke="#111" stroke-width="1.15"/>
<text transform="translate(501.3 422.5) scale(1.0 1)" font-size="7.3" text-anchor="end" fill="#111" stroke="#111" stroke-width="0.088">2</text>
<line x1="504.5" y1="437.3" x2="506.7" y2="437.3" stroke="#111" stroke-width="1.15"/>
<text transform="translate(501.3 439.40000000000003) scale(1.0 1)" font-size="7.3" text-anchor="end" fill="#111" stroke="#111" stroke-width="0.088">0</text>
<line x1="506.7" y1="437.3" x2="611" y2="437.3" stroke="#111" stroke-width="1.15"/>
<line x1="519.6" y1="437.3" x2="519.6" y2="440.3" stroke="#111" stroke-width="1.15"/>
<text transform="translate(519.6 448.6) scale(1.0 1)" font-size="7.3" text-anchor="middle" fill="#111" stroke="#111" stroke-width="0.088">0</text>
<line x1="545.3" y1="437.3" x2="545.3" y2="440.3" stroke="#111" stroke-width="1.15"/>
<text transform="translate(545.3 448.6) scale(1.0 1)" font-size="7.3" text-anchor="middle" fill="#111" stroke="#111" stroke-width="0.088">2</text>
<line x1="571" y1="437.3" x2="571" y2="440.3" stroke="#111" stroke-width="1.15"/>
<text transform="translate(571 448.6) scale(1.0 1)" font-size="7.3" text-anchor="middle" fill="#111" stroke="#111" stroke-width="0.088">4</text>
<line x1="596.7" y1="437.3" x2="596.7" y2="440.3" stroke="#111" stroke-width="1.15"/>
<text transform="translate(596.7 447.40000000000003) scale(1.0 1)" font-size="7.3" text-anchor="middle" fill="#111" stroke="#111" stroke-width="0.088">6</text>
<polyline points="519.6,398.1 545.3,375.6 571,372.1 596.7,381.4" fill="none" stroke="#111" stroke-width="0.95"/>
<polyline points="519.6,398.1 545.3,395.8 571,403.2 596.7,418" fill="none" stroke="#111" stroke-width="0.95"/>
<rect x="517.90" y="396.40" width="3.40" height="3.40" fill="#000"/>
<rect x="543.60" y="373.90" width="3.40" height="3.40" fill="#000"/>
<rect x="569.30" y="370.40" width="3.40" height="3.40" fill="#000"/>
<rect x="595.00" y="379.70" width="3.40" height="3.40" fill="#000"/>
<circle cx="519.6" cy="398.1" r="1.7" fill="#000"/>
<circle cx="545.3" cy="395.8" r="1.7" fill="#000"/>
<circle cx="571" cy="403.2" r="1.7" fill="#000"/>
<circle cx="596.7" cy="418" r="1.7" fill="#000"/>
<text transform="translate(545.3 372.8) scale(1.0 1)" font-size="6.0" text-anchor="middle" fill="#111" stroke="#111" stroke-width="0.2">*</text>
<text transform="translate(571 368.7) scale(1.0 1)" font-size="6.0" text-anchor="middle" fill="#111" stroke="#111" stroke-width="0.2">*</text>
<text transform="translate(596.7 379.2) scale(1.0 1)" font-size="6.0" text-anchor="middle" fill="#111" stroke="#111" stroke-width="0.2">*</text>
<text transform="translate(560.8 350) scale(1.0 1)" font-size="7.6" text-anchor="middle" fill="#111" stroke="#111" stroke-width="0.091">TZMb1 Cell</text>
<text transform="translate(484.6 376.6) rotate(-90) scale(1.0 1)" font-size="9.5" text-anchor="middle" fill="#111" stroke="#111" stroke-width="0.114">RLU(<tspan font-size="15.00" dy="1.05">×</tspan><tspan dy="-1.05">1</tspan>0<tspan font-size="6" dy="-3.3">6</tspan><tspan dy="3.3">)</tspan></text>
<text transform="translate(561.3 469.4) scale(1.0 1)" font-size="7.6" text-anchor="middle" fill="#111" stroke="#111" stroke-width="0.091">Days post Infection</text>
<line x1="617" y1="357" x2="625" y2="357" stroke="#111" stroke-width="0.9"/>
<rect x="619.00" y="355.20" width="3.80" height="3.60" fill="#000" rx="1"/>
<line x1="617" y1="374.9" x2="625" y2="374.9" stroke="#111" stroke-width="0.9"/>
<circle cx="620.9" cy="374.9" r="1.8" fill="#000"/>
<text transform="translate(627.4 358.2) scale(1.0 1)" font-size="4.85" text-anchor="start" fill="#111" stroke="#111" stroke-width="0.2">HIV from HDAC10-KD Cell</text>
<text transform="translate(627.4 376.4) scale(1.0 1)" font-size="4.8" text-anchor="start" fill="#111" stroke="#111" stroke-width="0.2">HIV from Control Cell</text>
</g>
</svg>
</body></html>
